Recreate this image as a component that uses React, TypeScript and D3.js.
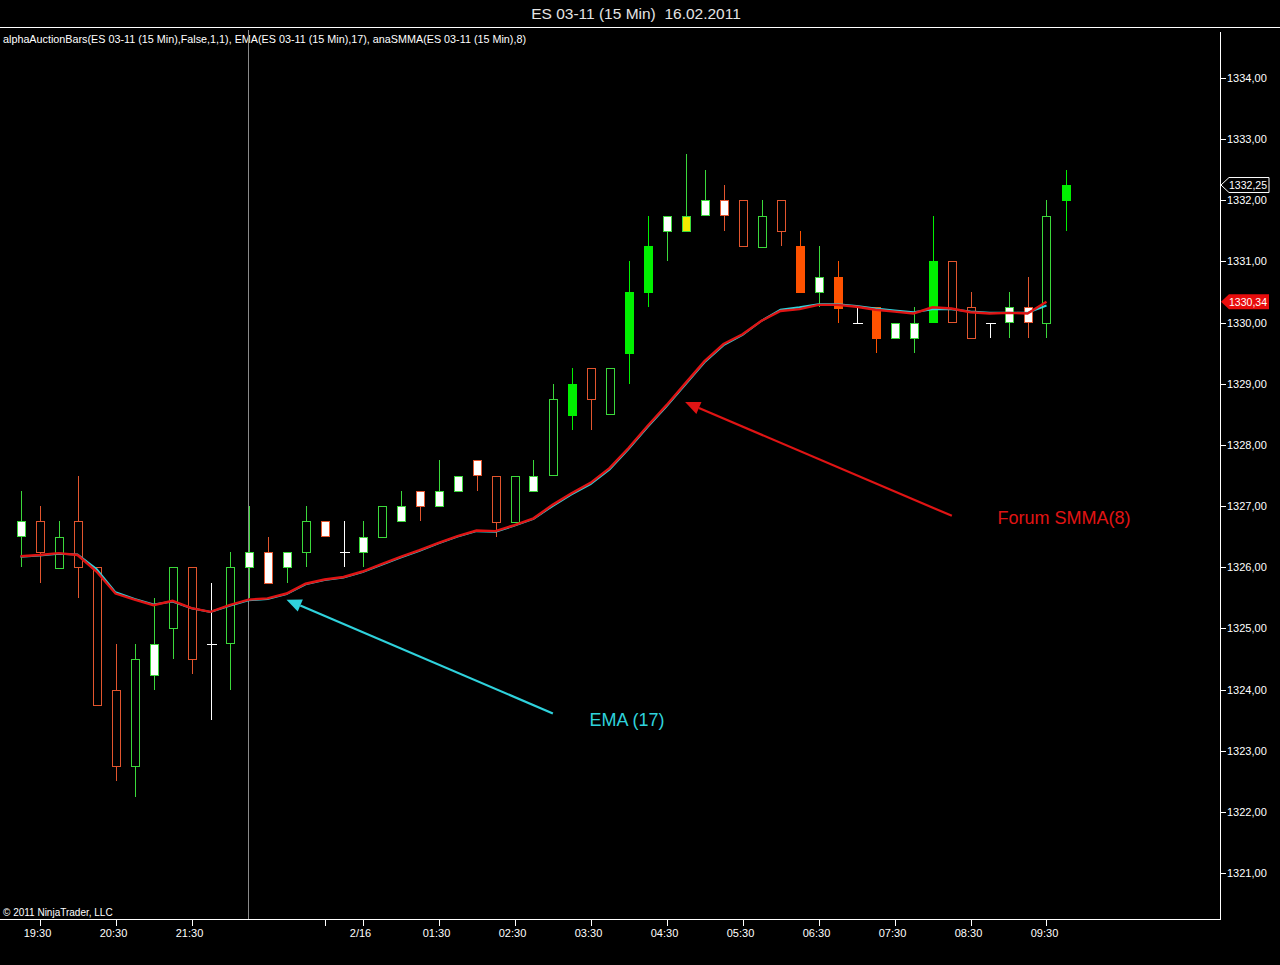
import * as d3 from 'd3';

// 15 min bars, ES 03-11, 16.02.2011
const opens = [
  1326.5, 1326.75, 1326, 1326.75, 1326, 1324, 1322.75, 1324.25, 1325, 1326,
  1324.75, 1324.75, 1326, 1326.25, 1326, 1326.25, 1326.75, 1326.25, 1326.25, 1326.5,
  1326.75, 1327.25, 1327, 1327.25, 1327.75, 1327.5, 1326.75, 1327.25, 1327.5, 1328.5,
  1329.25, 1328.5, 1329.5, 1330.5, 1331.5, 1331.5, 1331.75, 1332, 1332, 1331.25,
  1332, 1331.25, 1330.5, 1330.75, 1330, 1330.25, 1329.75, 1329.75, 1330, 1331,
  1330.25, 1330, 1330, 1330.25, 1330, 1332,
];
const highs = [
  1327.25, 1327, 1326.75, 1327.5, 1326, 1324.75, 1324.75, 1325.5, 1326, 1326,
  1325.75, 1326.25, 1327, 1326.5, 1326.25, 1327, 1326.75, 1326.75, 1326.75, 1327,
  1327.25, 1327.25, 1327.75, 1327.5, 1327.75, 1327.5, 1327.5, 1327.75, 1329, 1329.25,
  1329.25, 1329.25, 1331, 1331.75, 1331.75, 1332.75, 1332.5, 1332.25, 1332, 1332,
  1332, 1331.5, 1331.25, 1331, 1330.25, 1330.25, 1330, 1330.25, 1331.75, 1331,
  1330.5, 1330, 1330.5, 1330.75, 1332, 1332.5,
];
const lows = [
  1326, 1325.75, 1326, 1325.5, 1323.75, 1322.5, 1322.25, 1324, 1324.5, 1324.25,
  1323.5, 1324, 1325.5, 1325.75, 1325.75, 1326, 1326.5, 1326, 1326, 1326.5,
  1326.75, 1326.75, 1327, 1327.25, 1327.25, 1326.5, 1326.75, 1327.25, 1327.5, 1328.25,
  1328.25, 1328.5, 1329, 1330.25, 1331, 1331.5, 1331.75, 1331.5, 1331.25, 1331.25,
  1331.25, 1330.5, 1330.25, 1330, 1330, 1329.5, 1329.75, 1329.5, 1330, 1330,
  1329.75, 1329.75, 1329.75, 1329.75, 1329.75, 1331.5,
];
const closes = [
  1326.75, 1326.25, 1326.5, 1326, 1323.75, 1322.75, 1324.5, 1324.75, 1326, 1324.5,
  1324.75, 1326, 1326.25, 1325.75, 1326.25, 1326.75, 1326.5, 1326.25, 1326.5, 1327,
  1327, 1327, 1327.25, 1327.5, 1327.5, 1326.75, 1327.5, 1327.5, 1328.75, 1329,
  1328.75, 1329.25, 1330.5, 1331.25, 1331.75, 1331.75, 1332, 1331.75, 1331.25, 1331.75,
  1331.5, 1330.5, 1330.75, 1330.25, 1330, 1329.75, 1330, 1330, 1331, 1330,
  1329.75, 1330, 1330.25, 1330, 1331.75, 1332.25,
];
// h = hollow, w = white body, s = solid, y = yellow, d = doji
const barStyles = [
  'w', 'h', 'h', 'h', 'h', 'h', 'h', 'w', 'h', 'h',
  'd', 'h', 'w', 'w', 'w', 'h', 'w', 'd', 'w', 'h',
  'w', 'w', 'w', 'w', 'w', 'h', 'h', 'w', 'h', 's',
  'h', 'h', 's', 's', 'w', 'y', 'w', 'w', 'h', 'h',
  'h', 's', 'w', 's', 'd', 's', 'w', 'w', 's', 'h',
  'h', 'd', 'w', 'w', 'h', 's',
];

const smma8 = [
  1326.18, 1326.2, 1326.23, 1326.2, 1325.93, 1325.57, 1325.47, 1325.38, 1325.45, 1325.33,
  1325.27, 1325.38, 1325.47, 1325.49, 1325.57, 1325.73, 1325.8, 1325.84, 1325.93, 1326.05,
  1326.17, 1326.28, 1326.4, 1326.51, 1326.6, 1326.59, 1326.69, 1326.8, 1327.02, 1327.21,
  1327.38, 1327.62, 1327.95, 1328.31, 1328.65, 1329.01, 1329.37, 1329.65, 1329.81, 1330.03,
  1330.19, 1330.22, 1330.29, 1330.29, 1330.26, 1330.21, 1330.18, 1330.15, 1330.25, 1330.23,
  1330.17, 1330.15, 1330.16, 1330.15, 1330.34,
];
const ema17 = [
  1326.17, 1326.19, 1326.22, 1326.21, 1325.97, 1325.59, 1325.48, 1325.39, 1325.44, 1325.33,
  1325.27, 1325.37, 1325.46, 1325.48, 1325.56, 1325.72, 1325.79, 1325.83, 1325.92, 1326.04,
  1326.16, 1326.27, 1326.39, 1326.5, 1326.59, 1326.58, 1326.68, 1326.79, 1327.0, 1327.19,
  1327.36, 1327.6, 1327.93, 1328.29, 1328.63, 1328.99, 1329.35, 1329.63, 1329.8, 1330.03,
  1330.21, 1330.25, 1330.3, 1330.3, 1330.27, 1330.23, 1330.2, 1330.17, 1330.22, 1330.22,
  1330.18, 1330.16, 1330.16, 1330.16, 1330.28,
];

const tickBars = [1, 5, 9, 16, 18, 22, 26, 30, 34, 38, 42, 46, 50, 54];
const tickLabels = [
  '19:30', '20:30', '21:30', '', '2/16', '01:30', '02:30', '03:30',
  '04:30', '05:30', '06:30', '07:30', '08:30', '09:30',
];
const sessionBreakBar = 12;

const W = 1280;
const H = 965;
const FONT = 'Liberation Sans, Arial, sans-serif';

const GREEN = '#3bd83b';
const RED = '#e2552e';
const SOLID_GREEN = '#00f000';
const SOLID_RED = '#ff5200';
const YELLOW = '#f4ea00';
const CYAN = '#2fd2dc';
const LINE_RED = '#e01414';

const x = d3.scaleLinear().domain([0, 55]).range([20.5, 20.5 + 19 * 55]);
const y = d3.scaleLinear().domain([1321, 1334]).range([873, 78]);

const fmt = (v: number) => v.toFixed(2).replace('.', ',');

function Arrow({ x1, y1, x2, y2, color }: { x1: number; y1: number; x2: number; y2: number; color: string }) {
  const ang = Math.atan2(y2 - y1, x2 - x1);
  const len = 15;
  const half = 6.5;
  const bx = x2 - len * Math.cos(ang);
  const by = y2 - len * Math.sin(ang);
  const px = -Math.sin(ang) * half;
  const py = Math.cos(ang) * half;
  return (
    <g>
      <line x1={x1} y1={y1} x2={bx} y2={by} stroke={color} strokeWidth={2.2} />
      <polygon points={`${x2},${y2} ${bx + px},${by + py} ${bx - px},${by - py}`} fill={color} />
    </g>
  );
}

function PriceMarker({ value, fill, stroke }: { value: number; fill: string; stroke?: string }) {
  const py = y(value);
  return (
    <g>
      <polygon
        points={`1221,${py} 1229,${py - 7.5} 1269,${py - 7.5} 1269,${py + 7.5} 1229,${py + 7.5}`}
        fill={fill}
        stroke={stroke ?? 'none'}
      />
      <text x={1229} y={py + 4} fill="#fff" fontSize={11} textLength={38} lengthAdjust="spacingAndGlyphs">
        {fmt(value)}
      </text>
    </g>
  );
}

export default function App() {
  const line = d3
    .line<number>()
    .x((_, i) => x(i))
    .y((d) => y(d));

  const lastClose = closes[closes.length - 1];
  const lastSmma = smma8[smma8.length - 1];

  return (
    <svg
      width={W}
      height={H}
      style={{ position: 'absolute', left: 0, top: 0, background: '#000' }}
      fontFamily={FONT}
    >
      <rect width={W} height={H} fill="#000" />
      <text x={636} y={19} fill="#e4e4e4" fontSize={15.5} textAnchor="middle" xmlSpace="preserve">
        ES 03-11 (15 Min)  16.02.2011
      </text>
      <line x1={0} x2={W} y1={27.5} y2={27.5} stroke="#fff" />
      <text x={3} y={43} fill="#fff" fontSize={11} textLength={523} lengthAdjust="spacingAndGlyphs">
        alphaAuctionBars(ES 03-11 (15 Min),False,1,1), EMA(ES 03-11 (15 Min),17), anaSMMA(ES 03-11 (15 Min),8)
      </text>

      {/* session break */}
      <line x1={x(sessionBreakBar)} x2={x(sessionBreakBar)} y1={30} y2={919} stroke="#8a8a8a" />

      {/* candles */}
      <g shapeRendering="crispEdges">
        {opens.map((o, i) => {
          const c = closes[i];
          const st = barStyles[i];
          const up = c >= o;
          const col =
            st === 'd' ? '#fff' : st === 's' ? (up ? SOLID_GREEN : SOLID_RED) : st === 'y' ? GREEN : up ? GREEN : RED;
          const cx = Math.round(x(i)) + 0.5;
          const top = y(Math.max(o, c));
          const bot = y(Math.min(o, c));
          const fill = st === 'h' ? '#000' : st === 'w' ? '#fff' : st === 's' ? col : YELLOW;
          return (
            <g key={i}>
              <line x1={cx} x2={cx} y1={y(highs[i])} y2={y(lows[i])} stroke={col} />
              {st === 'd' ? (
                <line x1={cx - 5} x2={cx + 5} y1={Math.round(y(o)) + 0.5} y2={Math.round(y(o)) + 0.5} stroke={col} />
              ) : (
                <rect
                  x={cx - 4}
                  y={Math.round(top) + 0.5}
                  width={8}
                  height={Math.max(1, Math.round(bot - top))}
                  fill={fill}
                  stroke={col}
                />
              )}
            </g>
          );
        })}
      </g>

      {/* indicators */}
      <path d={line(ema17) ?? ''} fill="none" stroke={CYAN} strokeWidth={2} />
      <path d={line(smma8) ?? ''} fill="none" stroke={LINE_RED} strokeWidth={2.4} />

      {/* annotations */}
      <Arrow x1={x(28.02)} y1={y(1323.61)} x2={x(14)} y2={y(1325.47)} color={CYAN} />
      <text x={x(29.95)} y={y(1323.41)} fill={CYAN} fontSize={18}>
        EMA (17)
      </text>
      <Arrow x1={x(49.02)} y1={y(1326.84)} x2={x(34.98)} y2={y(1328.7)} color={LINE_RED} />
      <text x={x(51.42)} y={y(1326.71)} fill={LINE_RED} fontSize={18}>
        Forum SMMA(8)
      </text>

      {/* right axis */}
      <line x1={1220.5} x2={1220.5} y1={32} y2={919} stroke="#fff" />
      {d3.range(1321, 1335).map((v) => (
        <g key={v}>
          <line x1={1220} x2={1226} y1={Math.round(y(v)) + 0.5} y2={Math.round(y(v)) + 0.5} stroke="#fff" />
          <text x={1227} y={y(v) + 4} fill="#fff" fontSize={11}>
            {fmt(v)}
          </text>
        </g>
      ))}
      {/* last price markers */}
      <PriceMarker value={lastClose} fill="#000" stroke="#fff" />
      <PriceMarker value={lastSmma} fill="#e80c0c" />

      {/* bottom axis */}
      <text x={3} y={916} fill="#fff" fontSize={10}>
        © 2011 NinjaTrader, LLC
      </text>
      <line x1={0} x2={1221} y1={919.5} y2={919.5} stroke="#fff" />
      {tickBars.map((b, i) => (
        <g key={b}>
          <line x1={Math.round(x(b)) + 0.5} x2={Math.round(x(b)) + 0.5} y1={920} y2={926} stroke="#fff" />
          <text x={x(b) - 2} y={937} fill="#fff" fontSize={11} textAnchor="middle">
            {tickLabels[i]}
          </text>
        </g>
      ))}
    </svg>
  );
}
